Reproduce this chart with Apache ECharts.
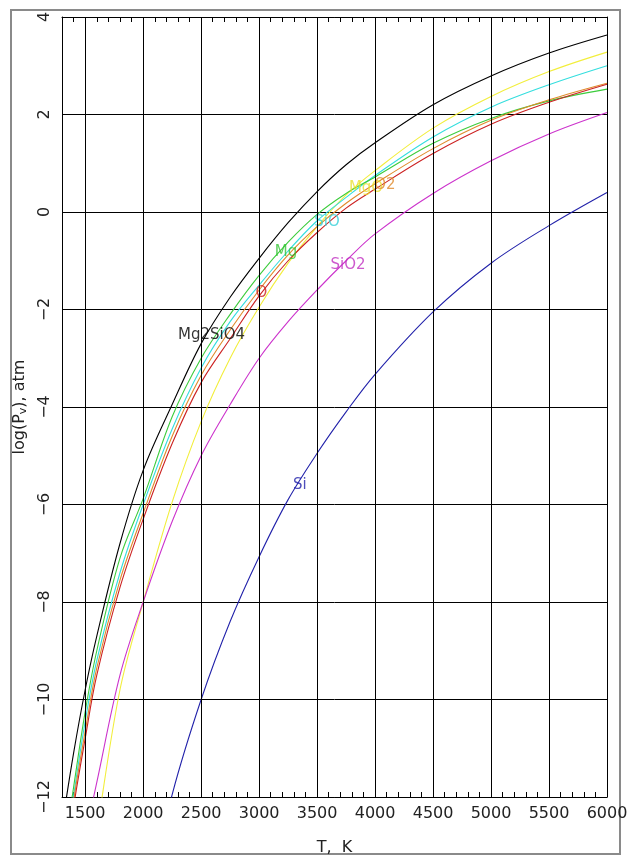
<!DOCTYPE html>
<html>
<head>
<meta charset="utf-8">
<script src="https://cdn.jsdelivr.net/npm/echarts@6/dist/echarts.min.js"></script>
<style>
  html, body { margin: 0; padding: 0; background: #fff; }
  #chart { width: 628px; height: 856px; }
</style>
</head>
<body>
<div id="chart"></div>
<script>
// Temperatures (K) at which the vapour pressures are tabulated
const temps = [1300, 1400, 1500, 1600, 1800, 2000, 2250, 2500, 2750, 3000, 3250, 3500, 3750, 4000, 4500, 5000, 5500, 6000];

// log10 of partial vapour pressure (atm) for each species
const logP_total = [-12.6, -11.1, -9.8, -8.7, -6.8, -5.3, -3.95, -2.7, -1.75, -0.95, -0.22, 0.42, 0.97, 1.42, 2.2, 2.79, 3.26, 3.63];
const logP_MgO   = [null, null, -14.2, -12.7, -9.8, -8.0, -5.95, -4.3, -3.0, -1.95, -1.05, -0.3, 0.35, 0.85, 1.72, 2.37, 2.88, 3.28];
const logP_SiO   = [-13.6, -11.97, -10.45, -9.2, -7.4, -6.0, -4.45, -3.2, -2.25, -1.5, -0.8, -0.18, 0.3, 0.75, 1.54, 2.15, 2.61, 3.0];
const logP_Mg    = [-13.4, -11.8, -10.25, -9.0, -7.1, -5.88, -4.2, -3.0, -2.1, -1.3, -0.62, -0.05, 0.38, 0.72, 1.41, 1.92, 2.28, 2.52];
const logP_O2    = [-13.7, -12.07, -10.65, -9.35, -7.55, -6.18, -4.6, -3.35, -2.42, -1.6, -0.88, -0.3, 0.18, 0.58, 1.3, 1.88, 2.3, 2.64];
const logP_O     = [-13.9, -12.2, -10.8, -9.5, -7.7, -6.3, -4.75, -3.5, -2.6, -1.72, -1.0, -0.42, 0.08, 0.47, 1.2, 1.8, 2.25, 2.62];
const logP_SiO2  = [null, null, -12.8, -11.7, -9.5, -8.0, -6.35, -5.0, -3.95, -3.0, -2.25, -1.6, -1.0, -0.45, 0.38, 1.05, 1.6, 2.04];
const logP_Si    = [null, null, null, null, null, -14.5, -11.95, -10.0, -8.4, -7.07, -5.9, -4.95, -4.1, -3.33, -2.05, -1.05, -0.28, 0.40];

// Axis ticks
const tempMajorTicks = [1500, 2000, 2500, 3000, 3500, 4000, 4500, 5000, 5500, 6000];
const tempMin = 1300, tempMax = 6000, tempMinorStep = 100;
const logPMin = -12, logPMax = 4, logPStep = 2;

// Curve labels and where they sit (T, log P)
const curveLabelTexts = ['Mg2SiO4', 'Mg', 'SiO', 'SiO2', 'Si', 'O', 'MgO', 'O2'];
const curveLabelAnchors = [[2589, -2.52], [3232, -0.82], [3585, -0.21], [3767, -1.09], [3352, -5.6], [3020, -1.66], [3922, 0.49], [4085, 0.55]];

const curves = [
  { name: 'Mg2SiO4', values: logP_total, color: '#000000' },
  { name: 'MgO',     values: logP_MgO,   color: '#f2ee3c' },
  { name: 'SiO',     values: logP_SiO,   color: '#33dede' },
  { name: 'Mg',      values: logP_Mg,    color: '#3ccc3c' },
  { name: 'O2',      values: logP_O2,    color: '#e08a2a' },
  { name: 'O',       values: logP_O,     color: '#cc2222' },
  { name: 'SiO2',    values: logP_SiO2,  color: '#cc33cc' },
  { name: 'Si',      values: logP_Si,    color: '#2222aa' }
];
const labelColors = ['#000000', '#33c433', '#33d0d8', '#c030c0', '#2222aa', '#cc2222', '#e8e030', '#e08a2a'];

const FONT = 'DejaVu Sans';
const minus = v => (v < 0 ? '\u2212' + Math.abs(v) : String(v));

const chart = echarts.init(document.getElementById('chart'), null, { renderer: 'canvas' });

const series = [];

// major vertical grid lines at the labelled temperatures
series.push({
  type: 'line',
  data: [],
  z: 1,
  silent: true,
  markLine: {
    silent: true,
    symbol: ['none', 'none'],
    label: { show: false },
    lineStyle: { color: '#000', width: 1, type: 'solid' },
    data: tempMajorTicks.map(t => ({ xAxis: t }))
  }
});

curves.forEach(c => {
  const pts = [];
  temps.forEach((t, i) => { if (c.values[i] !== null) pts.push([t, c.values[i]]); });
  series.push({
    name: c.name,
    type: 'line',
    data: pts,
    showSymbol: false,
    smooth: 0.35,
    clip: true,
    z: 3,
    lineStyle: { color: c.color, width: 1.1 },
    emphasis: { disabled: true }
  });
});

series.push({
  type: 'scatter',
  symbolSize: 0,
  z: 4,
  silent: true,
  data: curveLabelAnchors.map((p, i) => ({
    value: p,
    label: {
      show: true,
      position: 'inside',
      formatter: curveLabelTexts[i],
      color: labelColors[i],
      fontFamily: FONT,
      fontSize: 15
    }
  }))
});

const xCommon = {
  type: 'value',
  min: tempMin,
  max: tempMax,
  interval: tempMinorStep,
  axisLine: { show: true, onZero: false, lineStyle: { color: '#000', width: 1 } },
  axisTick: { show: true, inside: true, length: 5, lineStyle: { color: '#000' } },
  splitLine: { show: false }
};

chart.setOption({
  animation: false,
  backgroundColor: '#fff',
  grid: { left: 62, right: 21, top: 17, bottom: 59, containLabel: false, outerBoundsMode: 'none' },
  xAxis: [
    Object.assign({}, xCommon, {
      position: 'bottom',
      axisLabel: {
        show: true,
        margin: 9,
        color: '#222',
        fontFamily: FONT,
        fontSize: 16,
        formatter: v => (v % 500 === 0 ? String(v) : '')
      },
      name: 'T,  K',
      nameLocation: 'middle',
      nameGap: 43,
      nameTextStyle: { color: '#222', fontFamily: FONT, fontSize: 16 }
    }),
    Object.assign({}, xCommon, {
      position: 'top',
      axisLabel: { show: false }
    })
  ],
  yAxis: [
    {
      type: 'value',
      position: 'left',
      min: logPMin,
      max: logPMax,
      interval: logPStep,
      axisLine: { show: true, onZero: false, lineStyle: { color: '#000', width: 1 } },
      axisTick: { show: false },
      axisLabel: {
        rotate: 90,
        margin: 9,
        color: '#222',
        fontFamily: FONT,
        fontSize: 16,
        formatter: minus
      },
      splitLine: { show: true, lineStyle: { color: '#000', width: 1 } },
      name: 'log(P{s|v}), atm',
      nameLocation: 'middle',
      nameGap: 25,
      nameRotate: 90,
      nameTextStyle: {
        color: '#222', fontFamily: FONT, fontSize: 16,
        rich: { s: { fontFamily: FONT, fontSize: 11, color: '#222', verticalAlign: 'bottom', padding: [8, 0, 0, 0] } }
      }
    },
    {
      type: 'value',
      position: 'right',
      min: logPMin,
      max: logPMax,
      interval: logPStep,
      axisLine: { show: true, onZero: false, lineStyle: { color: '#000', width: 1 } },
      axisTick: { show: false },
      axisLabel: { show: false },
      splitLine: { show: false }
    }
  ],
  graphic: [
    {
      type: 'rect',
      silent: true,
      shape: { x: 11, y: 10, width: 609, height: 844 },
      style: { fill: 'none', stroke: '#8a8a8a', lineWidth: 2 }
    }
  ],
  series: series
});
</script>
</body>
</html>
